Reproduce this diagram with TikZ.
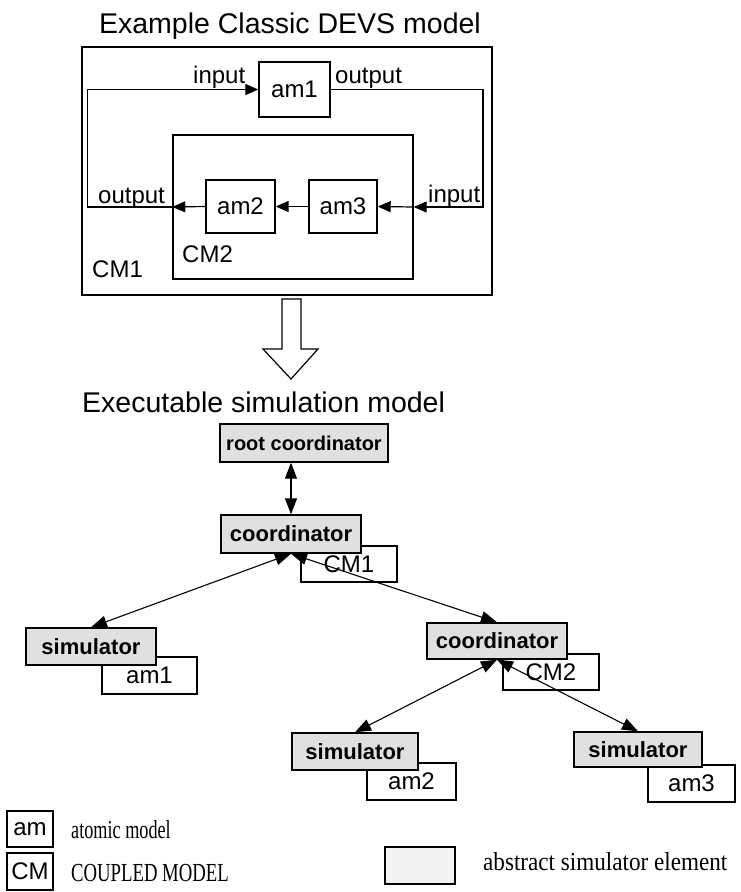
\documentclass[tikz,border=0pt]{standalone}
\usepackage{fontspec}
\setmainfont{Liberation Serif}
\setsansfont{Liberation Sans}
\usetikzlibrary{arrows.meta,positioning,calc}

\begin{document}
\begin{tikzpicture}[
        x=1pt, y=-1pt,
        box/.style={draw, line width=1.4pt, rectangle, inner sep=0pt,
            font=\sffamily\fontsize{24}{28}\selectfont},
        ASE/.style={draw, line width=1.4pt, rectangle, inner sep=0pt, fill=black!12,
            font=\sffamily\bfseries\fontsize{22}{26}\selectfont},
        lbl/.style={inner sep=0pt, anchor=base west,
            font=\sffamily\fontsize{24}{28}\selectfont},
        head/.style={inner sep=0pt, font=\sffamily\fontsize{28.5}{32}\selectfont},
        key/.style={inner sep=0pt, anchor=base west, font=\fontsize{26}{30}\selectfont},
        flow/.style={line width=1.2pt, -{Triangle[length=13pt,width=11pt]}},
        call/.style={line width=1.1pt,
            {Triangle[length=16pt,width=12pt]}-{Triangle[length=16pt,width=12pt]}},
    ]
    \useasboundingbox (0,0) rectangle (741,892);
    % classic DEVS model
    \node[head] (title1) at (290,26) {Example Classic DEVS model};
    \node[box, minimum width=410, minimum height=248] (CM1) at (287,171) {};
    \node[box, minimum width=71, minimum height=55] (am1) at (294.5,89.5) {am1};
    \node[box, minimum width=240, minimum height=144] (CM2) at (293,207) {};
    \node[box, minimum width=69, minimum height=53] (am2) at (240.5,206.5) {am2};
    \node[box, minimum width=68, minimum height=53] (am3) at (343,206.5) {am3};
    \node[lbl] (in1) at (193,83) {input};
    \node[lbl] (out1) at (335,83) {output};
    \node[lbl] (out2) at (98,203) {output};
    \node[lbl] (in2) at (428,202) {input};
    \node[lbl] (CM2name) at (182,262) {CM2};
    \node[lbl] (CM1name) at (92,277) {CM1};
    \coordinate (turn) at (483,207);
    \draw[flow] (am3.west) -- (am2.east);
    \draw[flow] (am2.west) -- (CM2.west);
    \draw[flow] (CM2.east) -- (am3.east);
    \draw[flow] (CM2.west) -- ++(-85,0) |- (am1.west);
    \draw[flow] (am1.east) -| (turn) -- (CM2.east);
    % hollow arrow
    \draw[line width=1.2pt] (282,299) -- (301,299) -- (301,349) -- (318,349)
        -- (291,379) -- (263,349) -- (282,349) -- cycle;
    % executable model
    \node[head, anchor=base west] (title2) at (82,412) {Executable simulation model};
    \node[box, minimum width=96, minimum height=36] (CM1box) at (349,564) {CM1};
    \node[box, minimum width=95, minimum height=37] (am1box) at (149.5,675.5) {am1};
    \node[box, minimum width=96, minimum height=36] (CM2box) at (551,672) {CM2};
    \node[box, minimum width=89, minimum height=37] (am2box) at (411.5,781.5) {am2};
    \node[box, minimum width=87, minimum height=37] (am3box) at (691.5,783.5) {am3};
    \node[ASE, minimum width=168, minimum height=38, font=\sffamily\bfseries\fontsize{20}{24}\selectfont]
        (root) at (304,443) {root coordinator};
    \node[ASE, minimum width=140, minimum height=38] (coord1) at (291,534) {coordinator};
    \node[ASE, minimum width=130, minimum height=37] (sim1) at (91,646.5) {simulator};
    \node[ASE, minimum width=140, minimum height=36] (coord2) at (497,641) {coordinator};
    \node[ASE, minimum width=126, minimum height=37] (sim2) at (355,751.5) {simulator};
    \node[ASE, minimum width=128, minimum height=35] (sim3) at (638,749.5) {simulator};
    \draw[call] (root.south -| coord1.north) -- (coord1.north);
    \draw[call] (coord1.south) -- (sim1.north);
    \draw[call] (coord1.south) -- (coord2.north);
    \draw[call] (coord2.south) -- (sim2.north);
    \draw[call] (coord2.south) -- (sim3.north);
    % legend
    \node[box, minimum width=46, minimum height=36] (keyAM) at (30,829) {am};
    \node[box, minimum width=46, minimum height=37] (keyCM) at (30,871.5) {CM};
    \node[ASE, fill=black!5, minimum width=70, minimum height=37] (keyASE) at (420,865.5) {};
    \node[key] (keyAMtext) at (71,838) {\scalebox{0.70}[1]{atomic model}};
    \node[key] (keyCMtext) at (71,881) {\scalebox{0.72}[1]{COUPLED MODEL}};
    \node[key] (keyASEtext) at (483,870) {\scalebox{0.89}[1]{abstract simulator element}};
\end{tikzpicture}
\end{document}
